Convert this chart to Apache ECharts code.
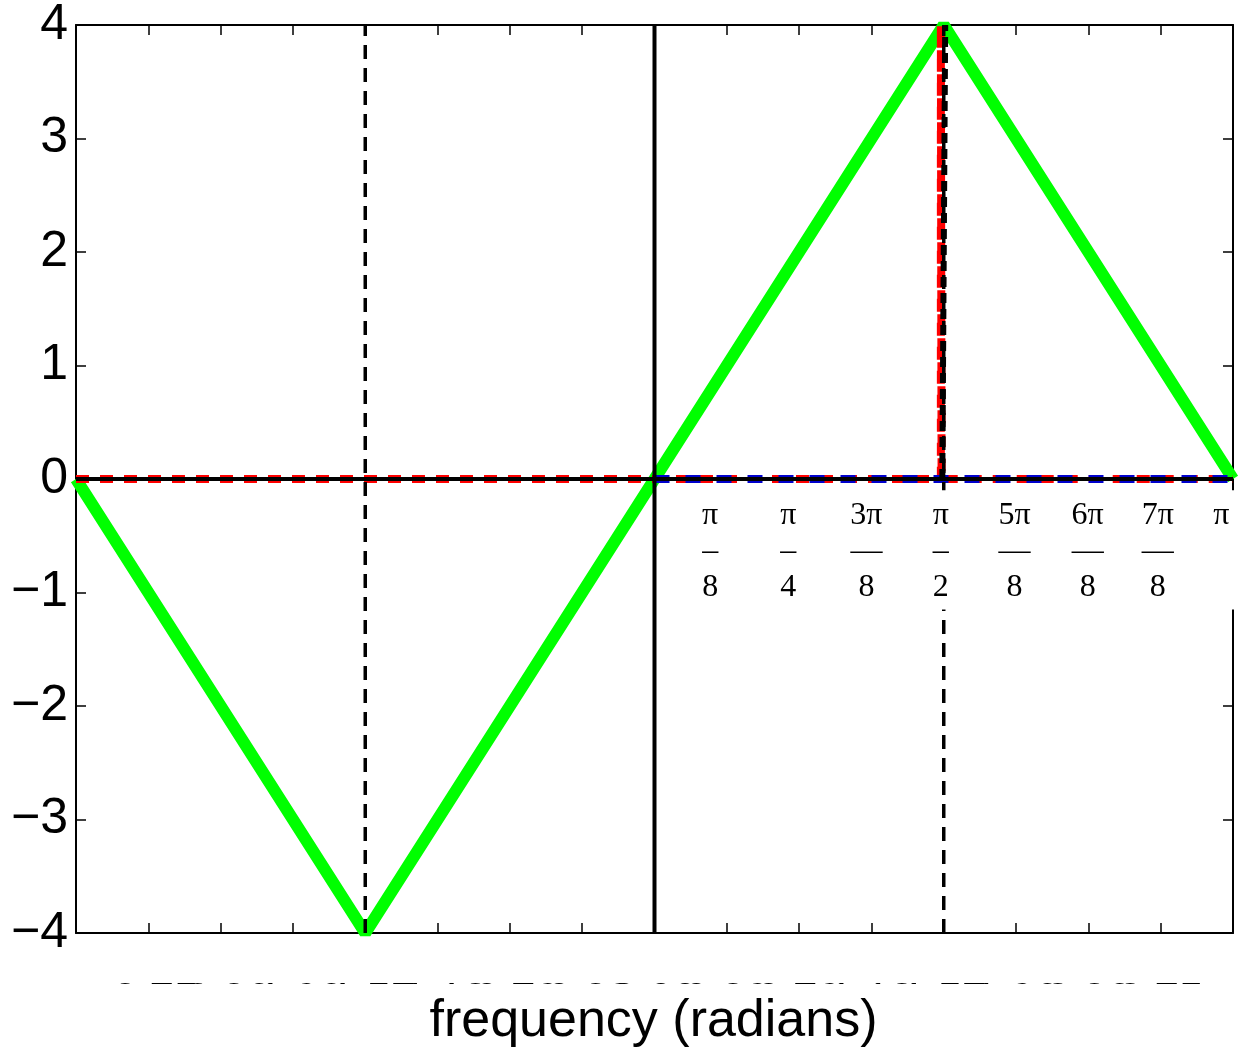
<!DOCTYPE html>
<html>
<head>
<meta charset="utf-8">
<script src="https://cdn.jsdelivr.net/npm/echarts@6/dist/echarts.min.js"></script>
<style>
  html, body { margin: 0; background: #fff; }
  #chart { width: 1243px; height: 1057px; }
</style>
</head>
<body>
<div id="chart"></div>
<script>
// x is measured in units of pi/8, so -8..8 is -pi..pi
const xTicks = [-8, -7, -6, -5, -4, -3, -2, -1, 0, 1, 2, 3, 4, 5, 6, 7, 8]
const yTicks = [-4, -3, -2, -1, 0, 1, 2, 3, 4]

const triangle = [[-8, 0], [-4, -4], [0, 0], [4, 4], [8, 0]]
const redImpulse = [[-8, 0], [3.96, 0], [3.96, 4], [3.97, 0], [8, 0]]
const blackImpulse = [[3.98, 0], [4.02, 4]]
const blueZero = [[0, 0], [8, 0]]
const zeroLine = [[-8, 0], [8, 0]]
const originLine = [[0, -4], [0, 4]]
const leftGuide = [[-4, -4], [-4, 4]]
const rightGuide = [[4, -4], [4, 4]]

// pi fraction labels drawn in the plot
const fracNum = ['π', 'π', '3π', 'π', '5π', '6π', '7π', 'π']
const fracBar = ['–', '–', '—', '–', '—', '—', '—', '']
const fracDen = ['8', '4', '8', '2', '8', '8', '8', '']
const fracPos = [0.77, 1.85, 2.93, 3.96, 4.98, 5.99, 6.96, 7.84]

const chart = echarts.init(document.getElementById('chart'))

function lineSeries (data, color, width, dash, z) {
  return {
    type: 'line',
    data: data,
    symbol: 'none',
    silent: true,
    animation: false,
    z: z,
    lineStyle: { color: color, width: width, type: dash || 'solid' }
  }
}

const axisBase = {
  type: 'value',
  axisLine: { show: true, onZero: false, lineStyle: { color: '#000', width: 2 } },
  axisTick: { show: true, inside: true, length: 10, lineStyle: { color: '#000', width: 1.5 } },
  splitLine: { show: false }
}

chart.setOption({
  animation: false,
  backgroundColor: '#fff',
  grid: { left: 76, right: 10, top: 24, bottom: 124 },
  xAxis: [
    Object.assign({}, axisBase, {
      min: -8, max: 8, interval: 1, position: 'bottom',
      axisLabel: {
        show: true, margin: 47, fontSize: 44, color: '#000', fontFamily: 'Liberation Sans',
        formatter: v => (v * Math.PI / 8).toFixed(2)
      }
    }),
    Object.assign({}, axisBase, {
      min: -8, max: 8, interval: 1, position: 'top', axisLabel: { show: false }
    })
  ],
  yAxis: [
    Object.assign({}, axisBase, {
      min: -4, max: 4, interval: 1, position: 'left',
      axisLabel: {
        show: true, margin: 8, fontSize: 50, color: '#000', fontFamily: 'Liberation Sans',
        formatter: v => (v < 0 ? '\u2212' + Math.abs(v) : String(v))
      }
    }),
    Object.assign({}, axisBase, {
      min: -4, max: 4, interval: 1, position: 'right', axisLabel: { show: false }
    })
  ],
  series: [
    lineSeries(triangle, '#00ff00', 12, 'solid', 2),
    lineSeries(redImpulse, '#ff0000', 8, [13, 11], 3),
    lineSeries(blueZero, '#0000cc', 8, [15, 16], 4),
    lineSeries(blackImpulse, '#000', 6, [10, 6], 5),
    lineSeries(zeroLine, '#000', 4, 'solid', 6),
    lineSeries(originLine, '#000', 4, 'solid', 6),
    lineSeries(leftGuide, '#000', 3.5, [14, 9], 6),
    lineSeries(rightGuide, '#000', 3.5, [14, 9], 6)
  ]
})

// white box behind the fraction labels and the cover over the clipped bottom labels
const px = (x, y) => chart.convertToPixel({ xAxisIndex: 0, yAxisIndex: 0 }, [x, y])
const boxTL = px(0.46, -0.1)
const boxBR = px(8, -1.15)
const graphics = [
  {
    type: 'rect', z: 50, silent: true,
    shape: { x: boxTL[0], y: boxTL[1], width: chart.getWidth() - boxTL[0], height: boxBR[1] - boxTL[1] },
    style: { fill: '#fff' }
  },
  {
    type: 'rect', z: 50, silent: true,
    shape: { x: 0, y: 984, width: chart.getWidth(), height: 60 },
    style: { fill: '#fff' }
  },
  {
    type: 'text', z: 60, silent: true,
    style: {
      x: chart.getWidth() / 2 + 32, y: 1022, text: 'frequency (radians)',
      font: '52px "Liberation Sans"', fill: '#000', align: 'center', verticalAlign: 'middle'
    }
  }
]
fracPos.forEach((x, i) => {
  const rows = [[fracNum[i], -0.32], [fracBar[i], -0.64], [fracDen[i], -0.96]]
  rows.forEach(r => {
    if (!r[0]) return
    const p = px(x, r[1])
    graphics.push({
      type: 'text', z: 60, silent: true,
      style: {
        x: p[0], y: p[1], text: r[0], font: '32px "Liberation Serif"',
        fill: '#000', align: 'center', verticalAlign: 'middle'
      }
    })
  })
})
chart.setOption({ graphic: graphics })
</script>
</body>
</html>
